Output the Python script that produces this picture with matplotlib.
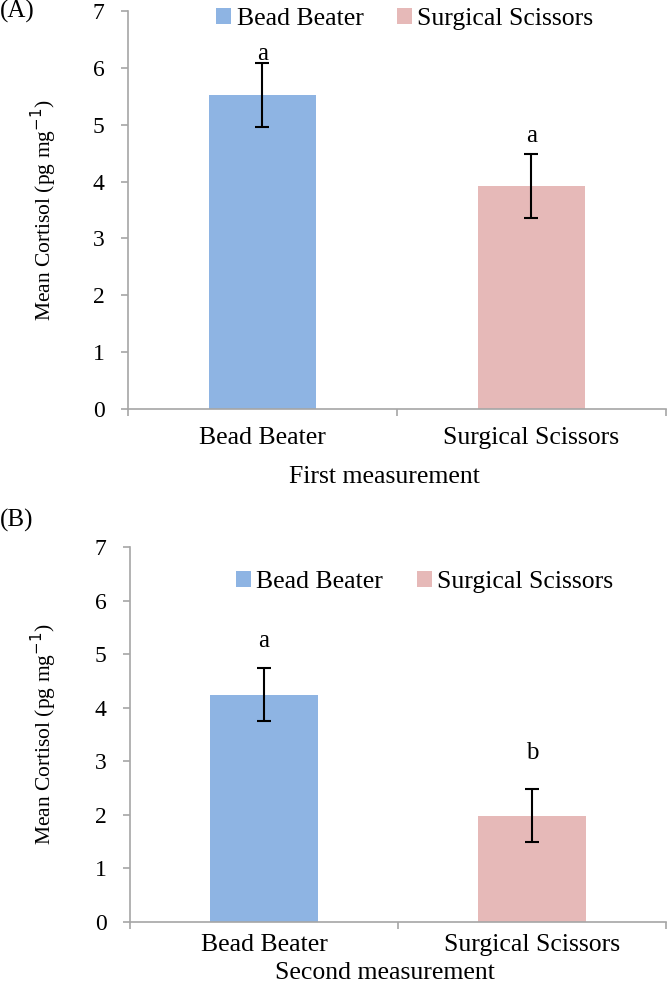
import numpy as np
import matplotlib
matplotlib.use("Agg")
import matplotlib.pyplot as plt

plt.rcParams['font.family'] = ['Liberation Serif', 'DejaVu Serif']

groups = ['Bead Beater', 'Surgical Scissors']
colors = ['#8EB4E3', '#E6B9B8']

first_mean = [5.52, 3.92]
first_err = [0.57, 0.57]
first_letters = ['a', 'a']
first_letter_y = [6.24, 4.80]

second_mean = [4.24, 1.98]
second_err = [0.50, 0.49]
second_letters = ['a', 'b']
second_letter_y = [5.24, 3.16]

yticks = [0, 1, 2, 3, 4, 5, 6, 7]
axis_gray = '#a6a6a6'

fig = plt.figure(figsize=(6.68, 9.92), dpi=100)
ax_a = fig.add_axes([0.1916, 0.5877, 0.8054, 0.4013])
ax_b = fig.add_axes([0.1946, 0.0709, 0.8024, 0.3777])


def draw_panel(ax, means, errs, letters, letter_y, xlabel, legend_xy, ylab_x,
               tick_pad, xlab_pad):
    x = np.arange(len(groups))
    bars = ax.bar(x, means, width=0.4, color=colors, zorder=2)
    ax.errorbar(x, means, yerr=errs, fmt='none', ecolor='black',
                elinewidth=1.5, capsize=4.7, capthick=1.5, zorder=3)
    for xi, lab, ly in zip(x, letters, letter_y):
        ax.text(xi, ly, lab, ha='center', va='center', fontsize=18)
    ax.set_xlim(-0.5, 1.5)
    ax.set_ylim(0, 7)
    ax.set_yticks(yticks)
    ax.set_xticks(x)
    ax.set_xticklabels(groups, fontsize=18.5)
    ax.set_xticks([-0.5, 0.5, 1.5], minor=True)
    ax.tick_params(axis='x', which='major', length=0, pad=tick_pad)
    ax.tick_params(axis='x', which='minor', length=5, color=axis_gray, width=1.2)
    ax.tick_params(axis='y', length=5, color=axis_gray, width=1.2,
                   labelsize=17, pad=12)
    for s in ['top', 'right']:
        ax.spines[s].set_visible(False)
    for s in ['left', 'bottom']:
        ax.spines[s].set_color(axis_gray)
        ax.spines[s].set_linewidth(1.2)
    ax.set_ylabel('Mean Cortisol (pg mg$^{-1}$)', fontsize=15.5)
    ax.yaxis.set_label_coords(ylab_x, 0.5)
    ax.set_xlabel(xlabel, fontsize=18.5, labelpad=xlab_pad)
    ax.xaxis.label.set_x(0.476)
    ax.legend(bars, groups, loc='center', bbox_to_anchor=legend_xy,
              bbox_transform=fig.transFigure, ncol=2, frameon=False,
              fontsize=18.5, handlelength=0.6, handleheight=0.6,
              handletextpad=0.2, columnspacing=1.3,
              borderpad=0.1)


draw_panel(ax_a, first_mean, first_err, first_letters, first_letter_y,
           'First measurement', (0.606, 0.981), -0.128, 13, 12)
draw_panel(ax_b, second_mean, second_err, second_letters, second_letter_y,
           'Second measurement', (0.6355, 0.4133), -0.132, 9, 4)

fig.text(0.0, 1 - 11 / 992, '(A)', fontsize=18, va='center', ha='left')
fig.text(0.0, 1 - 520 / 992, '(B)', fontsize=18, va='center', ha='left')

fig.savefig('out.png', dpi=100)
